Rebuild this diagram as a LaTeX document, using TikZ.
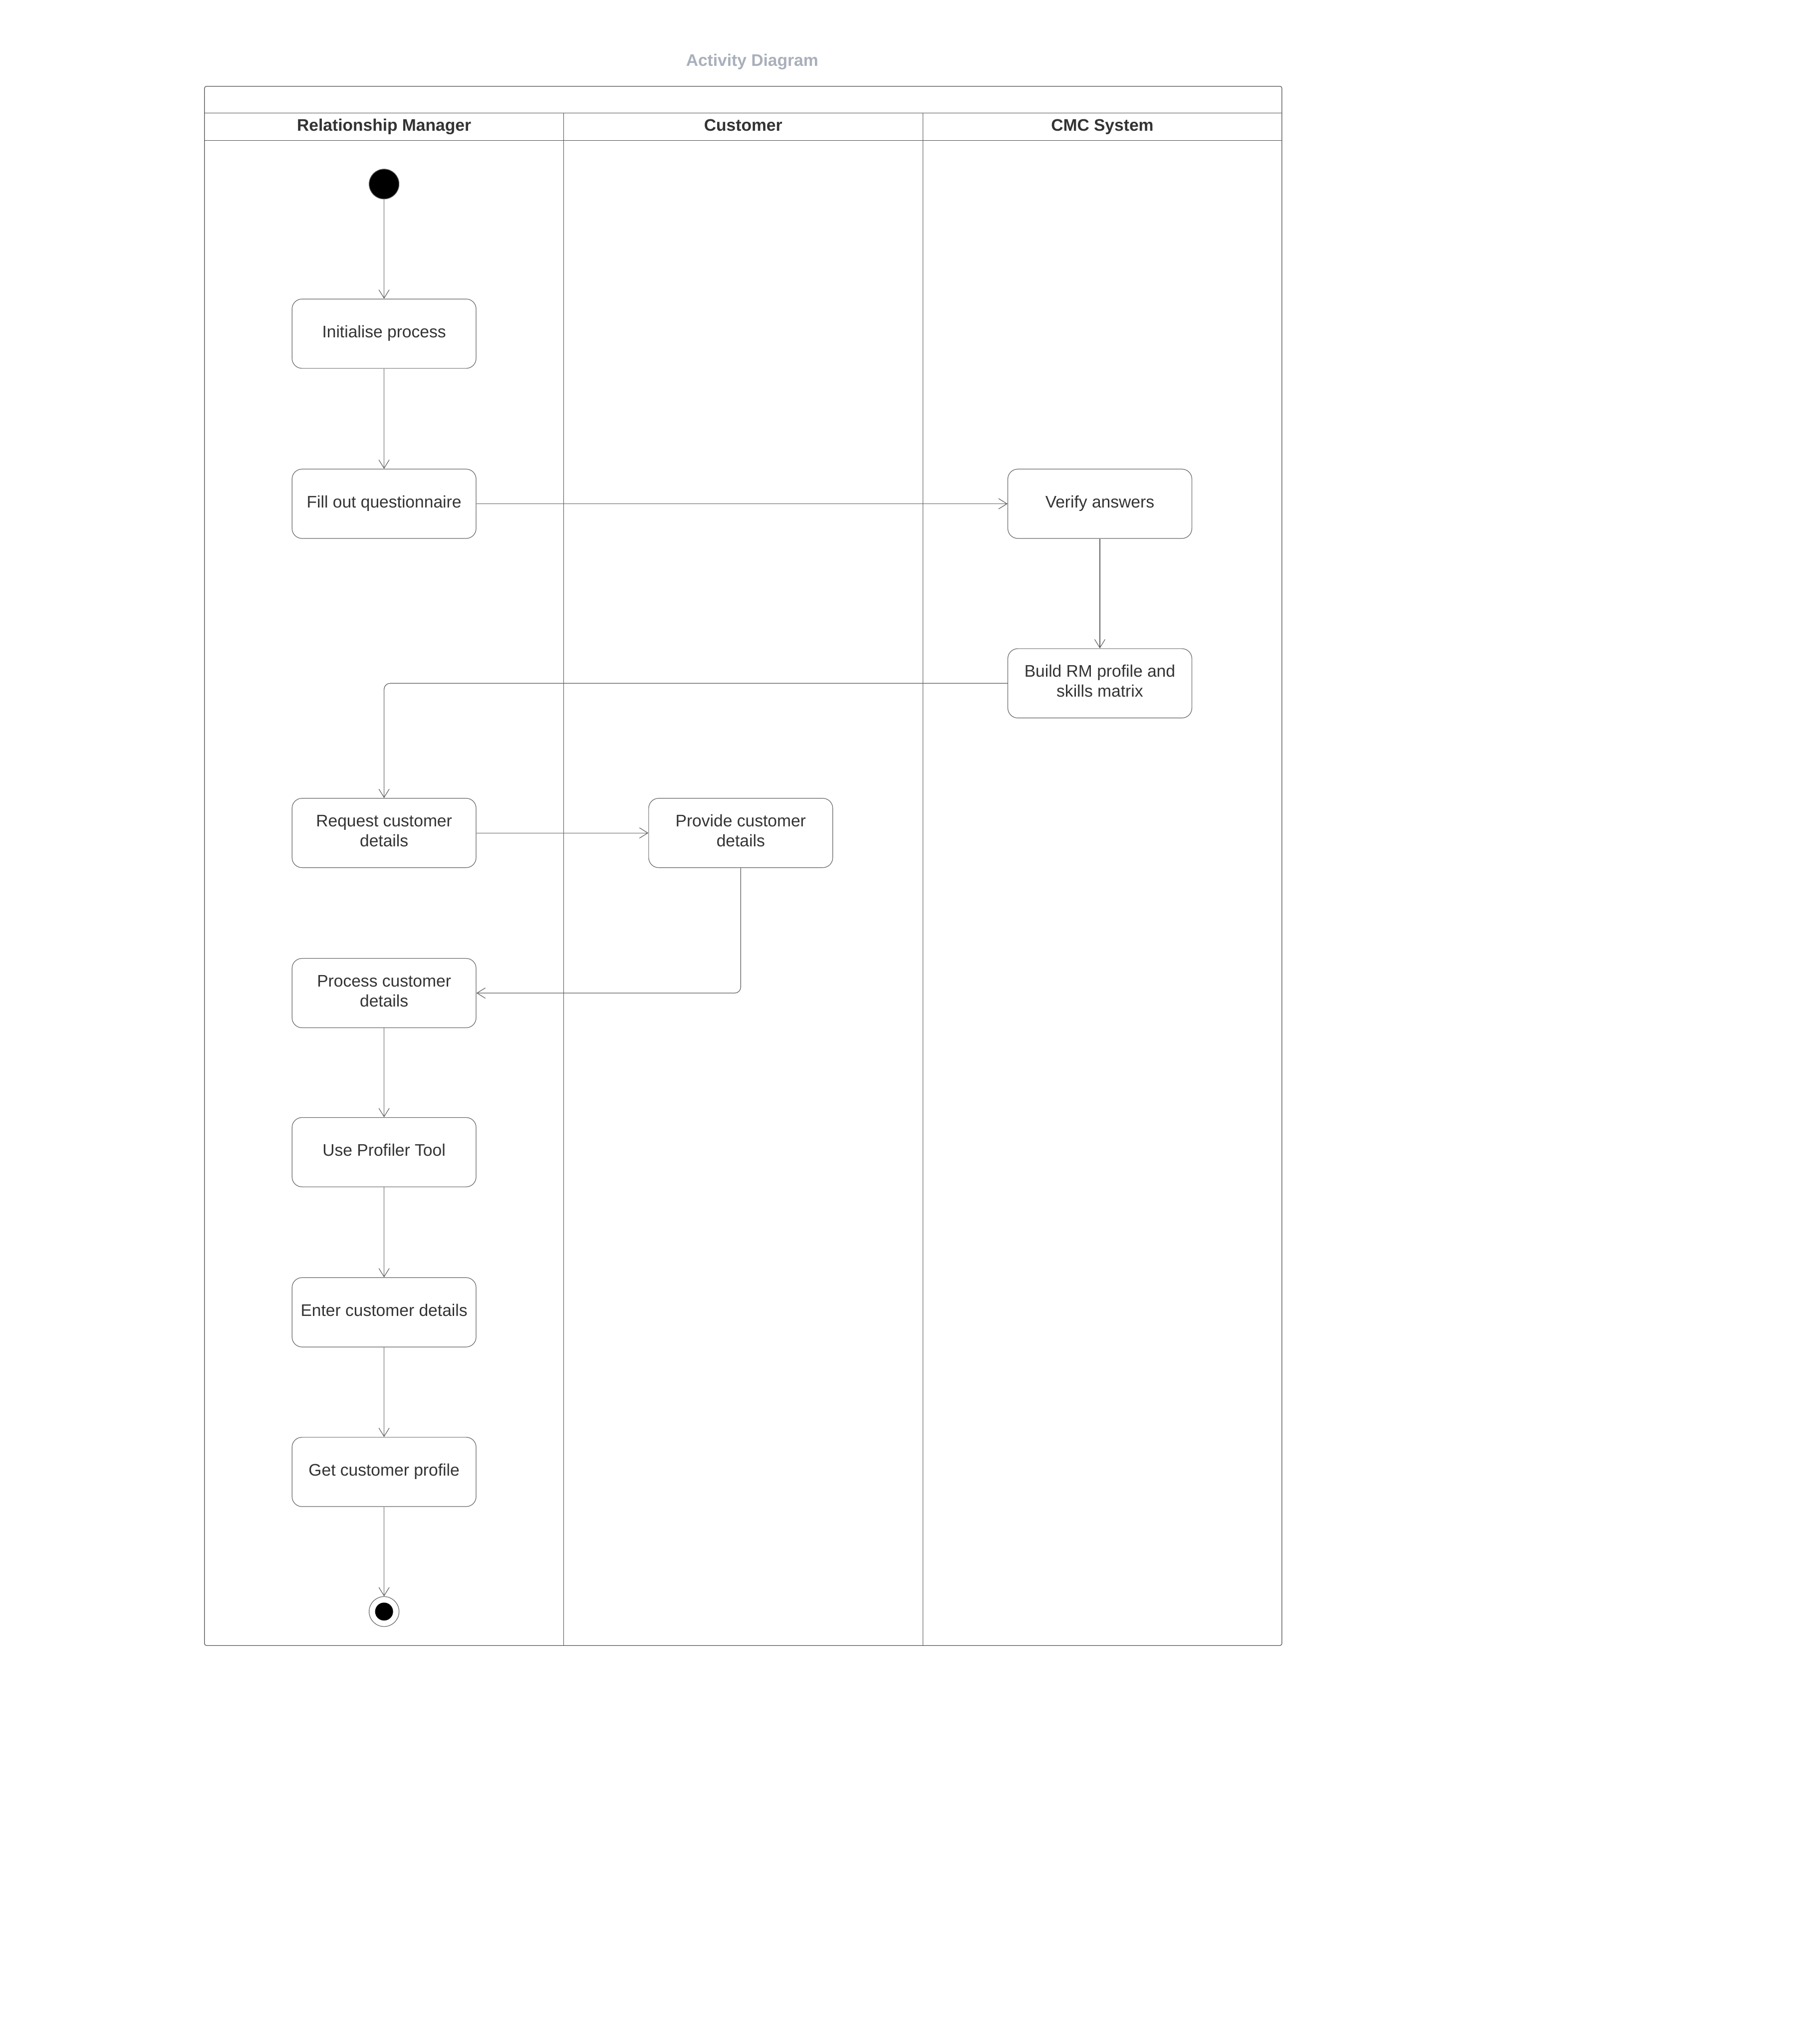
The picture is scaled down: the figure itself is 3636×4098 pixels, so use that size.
\documentclass[tikz,border=0pt]{standalone}
\usepackage{fontspec}
\setmainfont{Liberation Sans}
\usetikzlibrary{arrows.meta}
\definecolor{txt}{HTML}{333333}
\definecolor{ttl}{HTML}{A9AFBB}
\definecolor{frm}{HTML}{4D4D4D}
\definecolor{lnk}{HTML}{5E5E5E}
\definecolor{bdr}{HTML}{666666}
\begin{document}
\begin{tikzpicture}[x=0.25pt,y=-0.25pt,
  act/.style={draw=bdr, line width=0.3pt, rounded corners=5pt, minimum width=92.25pt,
    minimum height=34.75pt, inner sep=0pt, align=center, text=txt,
    font=\fontsize{8.4}{10}\selectfont, text height=6pt, text depth=2pt},
  acttwo/.style={act, text height=16pt, text depth=2.25pt},
  flow/.style={draw=lnk, line width=0.3pt, -{Straight Barb[length=4.2pt,width=5.2pt]}},
  lanehead/.style={font=\bfseries\fontsize{8.4}{10}\selectfont, text=txt, inner sep=0pt, anchor=base},
  frameline/.style={draw=frm, line width=0.3pt}]

\useasboundingbox (0,0) rectangle (3636,4098);

% title
\node[font=\bfseries\fontsize{8.4}{10}\selectfont, text=ttl, inner sep=0pt, anchor=base] (title) at (1508,133) {Activity Diagram};

% pool frame and lanes
\draw[frameline, rounded corners=1pt] (410,173) rectangle (2570,3299);
\draw[frameline] (410,227) -- (2570,227);
\draw[frameline] (410,282) -- (2570,282);
\draw[frameline] (1130,227) -- (1130,3299);
\draw[frameline] (1850,227) -- (1850,3299);

\node[lanehead] (h1) at (770,263) {Relationship Manager};
\node[lanehead] (h2) at (1490,263) {Customer};
\node[lanehead] (h3) at (2210,263) {CMC System};

% start / end
\node[circle, fill=black, draw=bdr, line width=0.3pt, minimum size=15pt, inner sep=0pt] (start) at (770,369) {};
\node[circle, draw=bdr, line width=0.3pt, minimum size=15pt, inner sep=0pt] (end) at (770,3231) {};
\node[circle, fill=black, minimum size=9pt, inner sep=0pt] (endin) at (770,3231) {};

% activities
\node[act] (init) at (770,669) {Initialise process};
\node[act] (fill) at (770,1010) {Fill out questionnaire};
\node[act] (verify) at (2205,1010) {Verify answers};
\node[acttwo] (build) at (2205,1370) {Build RM profile and\\skills matrix};
\node[acttwo] (req) at (770,1670) {Request customer\\details};
\node[acttwo] (prov) at (1485,1670) {Provide customer\\details};
\node[acttwo] (proc) at (770,1991) {Process customer\\details};
\node[act] (use) at (770,2310) {Use Profiler Tool};
\node[act] (enter) at (770,2631) {Enter customer details};
\node[act] (get) at (770,2951) {Get customer profile};

% flows
\draw[flow] (start) -- (init);
\draw[flow] (init) -- (fill);
\draw[flow] (fill) -- (verify);
\draw[flow] (verify) -- (build);
\draw[flow, rounded corners=3pt] (build.west) -| (req.north);
\draw[flow] (req) -- (prov);
\draw[flow, rounded corners=3pt] (prov.south) |- (proc.east);
\draw[flow] (proc) -- (use);
\draw[flow] (use) -- (enter);
\draw[flow] (enter) -- (get);
\draw[flow] (get) -- (end);
\end{tikzpicture}
\end{document}
